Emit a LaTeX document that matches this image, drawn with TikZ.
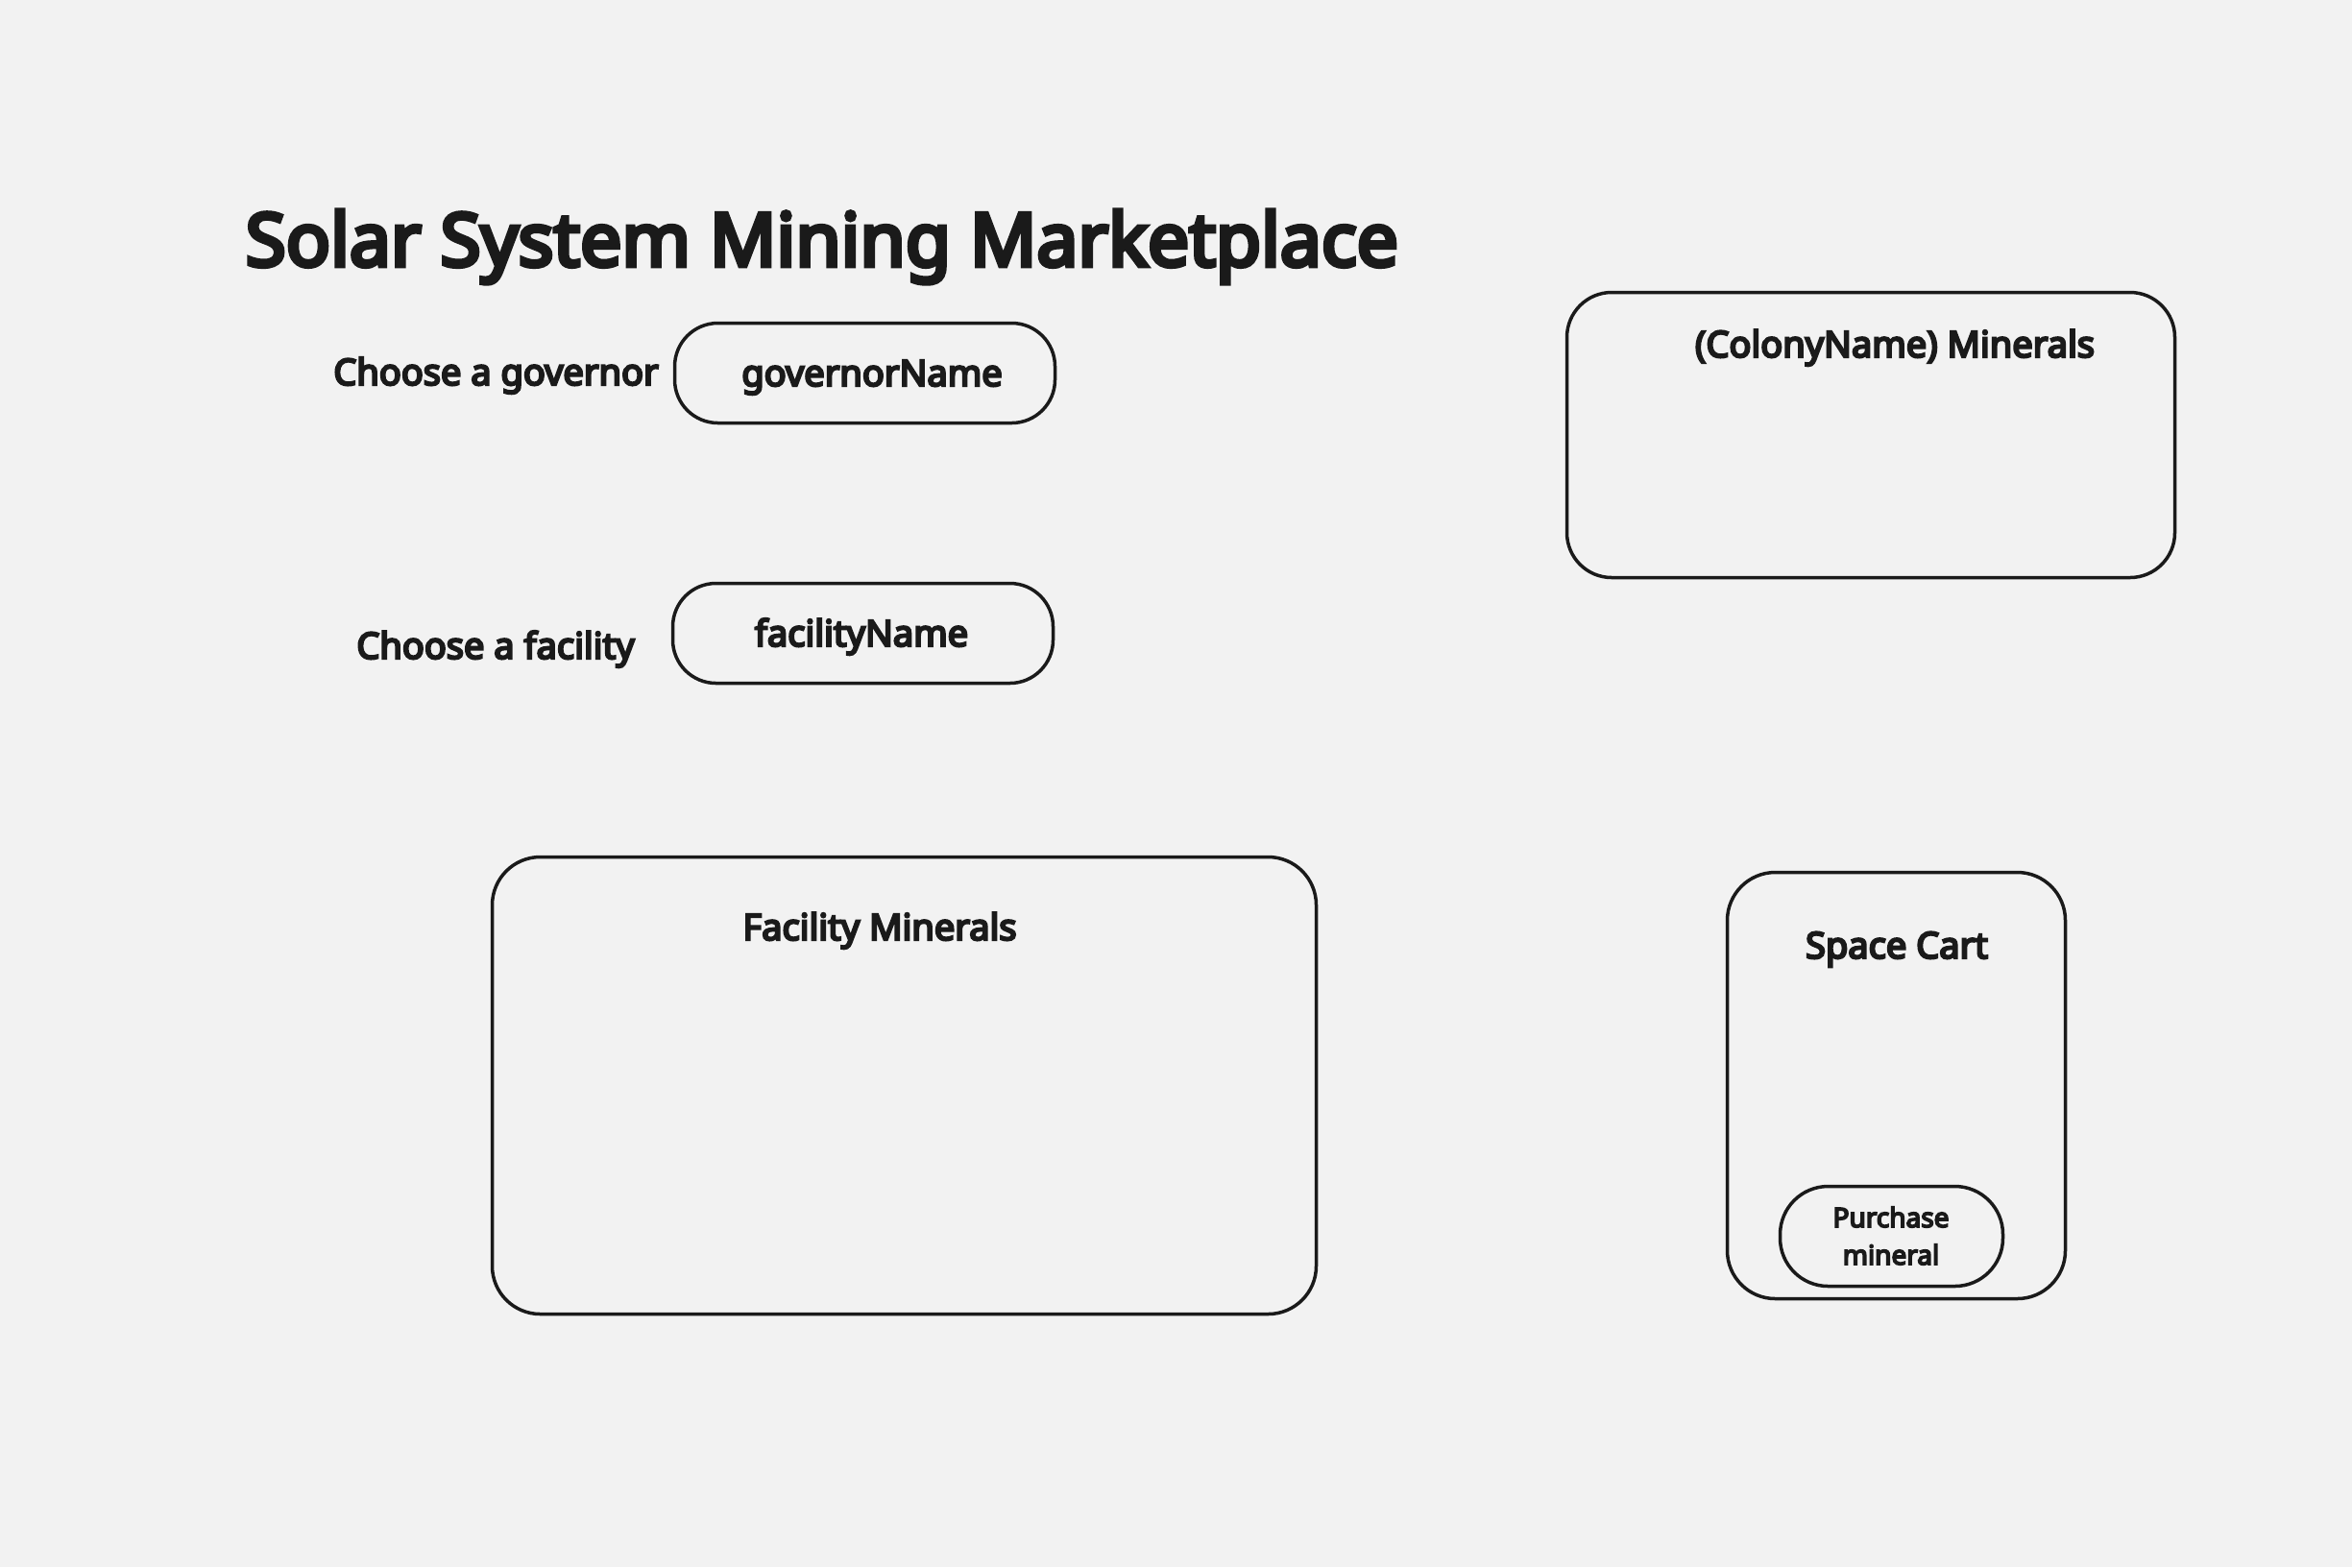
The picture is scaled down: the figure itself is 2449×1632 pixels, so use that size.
\documentclass[tikz,border=0pt]{standalone}
\usepackage{fontspec}
\setmainfont{Noto Sans}[BoldFont={Noto Sans}, BoldFeatures={FakeBold=6}]
\definecolor{bg}{HTML}{F2F2F2}
\definecolor{ink}{HTML}{1A1A1A}
\begin{document}
\begin{tikzpicture}[x=0.3pt,y=-0.3pt,
  box/.style={draw=ink, line width=1.05pt, rounded corners=#1, inner sep=0pt, outer sep=0pt},
  lbl/.style={font=\bfseries\fontsize{11.4}{13}\selectfont, text=ink, anchor=base, inner sep=0pt},
  ttl/.style={font=\bfseries\fontsize{23}{27}\selectfont, text=ink, anchor=base west, inner sep=0pt},
  small/.style={font=\bfseries\fontsize{8.4}{11.7}\selectfont, text=ink, anchor=base, inner sep=0pt}]
\fill[bg] (0,0) rectangle (2449,1632);
\useasboundingbox (0,0) rectangle (2449,1632);
% boxes
\node[box=13.5pt, minimum width=118.8pt, minimum height=31.2pt] (govbox) at (900.5,388.5) {};
\node[box=13.5pt, minimum width=118.8pt, minimum height=31.2pt] (facbox) at (898.5,659.5) {};
\node[box=14pt, minimum width=189.9pt, minimum height=89.1pt] (colbox) at (1948,453) {};
\node[box=15pt, minimum width=257.4pt, minimum height=142.8pt] (fminbox) at (941.5,1130.5) {};
\node[box=15pt, minimum width=105.6pt, minimum height=133.2pt] (cartbox) at (1974.5,1130.5) {};
\node[box=15pt, minimum width=69.6pt, minimum height=31.2pt] (purbox) at (1969.5,1287.5) {};
% texts
\node[ttl] (title) at (255,277) {Solar System Mining Marketplace};
\node[lbl] (govlbl) at (516.5,401) {Choose a governor};
\node[lbl] (govtxt) at (908,402) {governorName};
\node[lbl] (faclbl) at (516,686) {Choose a facility};
\node[lbl] (factxt) at (897,673) {facilityName};
\node[lbl] (coltxt) at (1973,372) {(ColonyName) Minerals};
\node[lbl] (fmintxt) at (916,979) {Facility Minerals};
\node[lbl] (carttxt) at (1975,998) {Space Cart};
\node[small] (purtxt1) at (1969,1278) {Purchase};
\node[small] (purtxt2) at (1969,1317) {mineral};
\end{tikzpicture}
\end{document}
